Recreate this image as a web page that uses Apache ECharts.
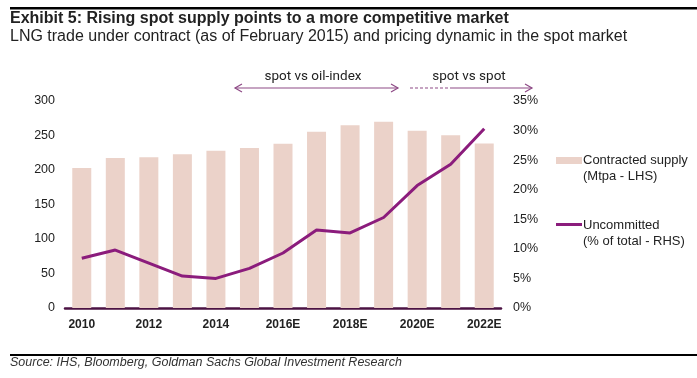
<!DOCTYPE html>
<html>
<head>
<meta charset="utf-8">
<script src="https://cdn.jsdelivr.net/npm/echarts@6/dist/echarts.min.js"></script>
<style>
html,body{margin:0;padding:0;background:#fff;}
#c{width:697px;height:378px;}
</style>
</head>
<body>
<div id="c"></div>
<script>
var categories = ["2010","2011","2012","2013","2014","2015","2016E","2017E","2018E","2019E","2020E","2021E","2022E"];
var contractedSupply = [203, 217.5, 218.5, 223, 228, 232, 238, 255.5, 265, 270, 257, 250.5, 238.5];
var uncommitted = [8.4, 9.8, 7.6, 5.4, 5.0, 6.7, 9.3, 13.2, 12.7, 15.3, 20.7, 24.3, 30.3];
var leftTicks = [0, 300, 50];
var rightTicks = [0, 35, 5];

var chart = echarts.init(document.getElementById('c'));
var axisFont = 'Liberation Sans, Arial, sans-serif';
var purple = '#8B1C7C';
var arrowCol = '#8E4A86';

function arrowHead(x, y, dir) {
  return {type:'polyline', shape:{points:[[x - dir*7, y-4],[x, y],[x - dir*7, y+4]]}, style:{stroke:arrowCol, lineWidth:1.2, fill:null}};
}

chart.setOption({
  animation: false,
  grid: {left: 65, right: 196, top: 101, bottom: 70, containLabel: false},
  xAxis: {
    type: 'category', data: categories,
    axisLine: {lineStyle: {color: '#4B1243', width: 2.5}},
    axisTick: {show: false},
    axisLabel: {interval: 1, color: '#222', fontWeight: 'bold', fontSize: 12, fontFamily: axisFont, margin: 11}
  },
  yAxis: [{
    type: 'value', min: leftTicks[0], max: leftTicks[1], interval: leftTicks[2],
    splitLine: {show: false}, axisLine: {show: false}, axisTick: {show: false},
    axisLabel: {color: '#222', fontSize: 12.5, fontFamily: axisFont, margin: 10}
  }, {
    type: 'value', min: rightTicks[0], max: rightTicks[1], interval: rightTicks[2],
    splitLine: {show: false}, axisLine: {show: false}, axisTick: {show: false},
    axisLabel: {color: '#222', fontSize: 12.5, fontFamily: axisFont, margin: 12, formatter: '{value}%'}
  }],
  series: [{
    type: 'bar', data: contractedSupply, yAxisIndex: 0, barWidth: 19,
    itemStyle: {color: '#EBD2C9'}
  }, {
    type: 'line', data: uncommitted, yAxisIndex: 1, symbol: 'none',
    lineStyle: {color: purple, width: 3}, z: 5
  }],
  graphic: [
    {type:'rect', shape:{x:10, y:7, width:687, height:2.5}, style:{fill:'#000'}},
    {type:'text', x:10, y:18.5, style:{text:'Exhibit 5: Rising spot supply points to a more competitive market', font:'bold 16px "Liberation Sans", Arial', fill:'#222', verticalAlign:'middle'}},
    {type:'text', x:10, y:37, style:{text:'LNG trade under contract (as of February 2015) and pricing dynamic in the spot market', font:'16px "Liberation Sans", Arial', fill:'#222', verticalAlign:'middle'}},
    {type:'line', shape:{x1:235, y1:88, x2:398, y2:88}, style:{stroke:arrowCol, lineWidth:1.2}},
    arrowHead(235, 88, -1), arrowHead(398, 88, 1),
    {type:'text', x:313, y:77, style:{text:'spot vs oil-index', font:'13.5px Roboto, Arial', fill:'#222', align:'center', verticalAlign:'middle'}},
    {type:'line', shape:{x1:410, y1:88, x2:453, y2:88}, style:{stroke:arrowCol, lineWidth:1.2, lineDash:[3,2]}},
    {type:'line', shape:{x1:453, y1:88, x2:532, y2:88}, style:{stroke:arrowCol, lineWidth:1.2}},
    arrowHead(532, 88, 1),
    {type:'text', x:469, y:77, style:{text:'spot vs spot', font:'13.5px Roboto, Arial', fill:'#222', align:'center', verticalAlign:'middle'}},
    {type:'rect', shape:{x:556, y:157, width:26, height:7}, style:{fill:'#EBD2C9'}},
    {type:'text', x:583, y:160, style:{text:'Contracted supply', font:'13px "Liberation Sans", Arial', fill:'#222', verticalAlign:'middle'}},
    {type:'text', x:583, y:176.5, style:{text:'(Mtpa - LHS)', font:'13px "Liberation Sans", Arial', fill:'#222', verticalAlign:'middle'}},
    {type:'line', shape:{x1:556, y1:224.5, x2:582, y2:224.5}, style:{stroke:purple, lineWidth:3}},
    {type:'text', x:583, y:225, style:{text:'Uncommitted', font:'13px "Liberation Sans", Arial', fill:'#222', verticalAlign:'middle'}},
    {type:'text', x:583, y:241.5, style:{text:'(% of total - RHS)', font:'13px "Liberation Sans", Arial', fill:'#222', verticalAlign:'middle'}},
    {type:'rect', shape:{x:10, y:354, width:687, height:2}, style:{fill:'#000'}},
    {type:'text', x:10, y:363, style:{text:'Source: IHS, Bloomberg, Goldman Sachs Global Investment Research', font:'italic 12.5px "Liberation Sans", Arial', fill:'#333', verticalAlign:'middle'}}
  ]
});
</script>
</body>
</html>
